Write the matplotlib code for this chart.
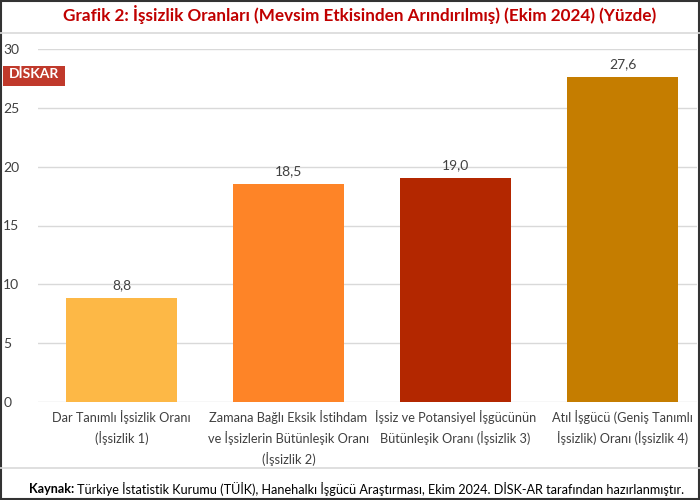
import matplotlib.pyplot as plt
from matplotlib.patches import Rectangle
from matplotlib.lines import Line2D

# data
categories = [
    "Dar Tanımlı İşsizlik Oranı\n(İşsizlik 1)",
    "Zamana Bağlı Eksik İstihdam\nve İşsizlerin Bütünleşik Oranı\n(İşsizlik 2)",
    "İşsiz ve Potansiyel İşgücünün\nBütünleşik Oranı (İşsizlik 3)",
    "Atıl İşgücü (Geniş Tanımlı\nİşsizlik) Oranı (İşsizlik 4)",
]
values = [8.8, 18.5, 19.0, 27.6]
yticks = [0, 5, 10, 15, 20, 25, 30]
colors = ["#FDB846", "#FE8427", "#B32700", "#C57D00"]

title = "Grafik 2: İşsizlik Oranları (Mevsim Etkisinden Arındırılmış) (Ekim 2024) (Yüzde)"
source = "Türkiye İstatistik Kurumu (TÜİK), Hanehalkı İşgücü Araştırması, Ekim 2024. DİSK-AR tarafından hazırlanmıştır."

plt.rcParams['font.family'] = ['Lato', 'DejaVu Sans']

fig = plt.figure(figsize=(7, 5), dpi=100)
ax = fig.add_axes([38/700, 1 - 402/500, 659/700, 353/500])

x = list(range(len(values)))
ax.bar(x, values, width=0.665, color=colors, zorder=3)
for xi, v in zip(x, values):
    ax.text(xi, v + 0.6, f"{v:.1f}".replace(".", ","), ha='center', va='bottom',
            fontsize=10, color='#404040')

ax.set_xlim(-0.5, 3.446)
ax.set_ylim(0, 30)
ax.set_yticks(yticks)
ax.set_yticklabels([str(t) for t in yticks], fontsize=10, color='#404040')
ax.set_xticks(x)
ax.set_xticklabels(categories, fontsize=9.2, color='#404040', linespacing=1.55)
ax.tick_params(length=0, pad=6)
ax.tick_params(axis='y', pad=25)
for lbl in ax.get_yticklabels():
    lbl.set_horizontalalignment('left')
ax.grid(axis='y', color='#D9D9D9', lw=1, zorder=0)
for s in ax.spines.values():
    s.set_visible(False)
ax.set_axisbelow(True)

# title and separators
fig.text(360/700, 1 - 14/500, title, ha='center', va='center', fontsize=12.3,
         fontweight='bold', color='#C00000')
fig.add_artist(Line2D([0, 1], [1 - 33/500] * 2, color='#D9D9D9', lw=1.2))
fig.add_artist(Line2D([0, 1], [1 - 468/500] * 2, color='#D9D9D9', lw=1.2))

# source line
t1 = fig.text(29/700, 1 - 489/500, "Kaynak:", ha='left', va='center', fontsize=9.1,
              fontweight='bold', color='black')
fig.canvas.draw()
bb = t1.get_window_extent()
fig.text(bb.x1 / fig.bbox.width + 0.004, 1 - 489/500, source, ha='left', va='center',
         fontsize=9.1, color='black')

# logo
fig.add_artist(Rectangle((3/700, 1 - 86/500), 62/700, 20/500, transform=fig.transFigure,
                         facecolor='#C0392B', edgecolor='none'))
fig.text(34/700, 1 - 74/500, "DİSKAR", ha='center', va='center', fontsize=10,
         fontweight='bold', color='white')

# border
fig.add_artist(Rectangle((0.001, 0.002), 0.997, 0.996, transform=fig.transFigure,
                         facecolor='none', edgecolor='#333333', lw=1.5))

fig.savefig("out.png", dpi=100)
